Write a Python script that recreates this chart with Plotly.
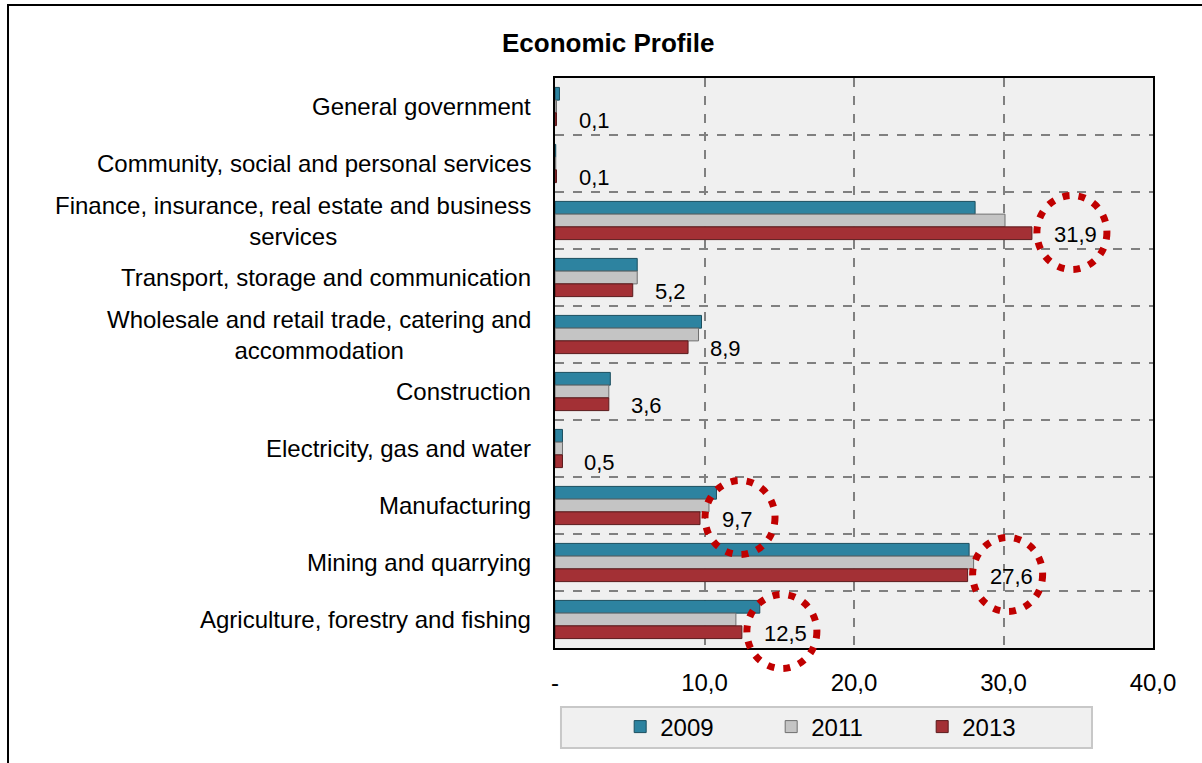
import plotly.graph_objects as go

categories = [
    "General government",
    "Community, social and personal services",
    "Finance, insurance, real estate and business<br>services",
    "Transport, storage and communication",
    "Wholesale and retail trade, catering and<br>accommodation",
    "Construction",
    "Electricity, gas and water",
    "Manufacturing",
    "Mining and quarrying",
    "Agriculture, forestry and fishing",
]
years = ["2009", "2011", "2013"]
v2009 = [0.3, 0.05, 28.1, 5.5, 9.8, 3.7, 0.5, 10.8, 27.7, 13.7]
v2011 = [0.1, 0.05, 30.1, 5.5, 9.6, 3.6, 0.5, 10.3, 28.0, 12.1]
v2013 = [0.1, 0.1, 31.9, 5.2, 8.9, 3.6, 0.5, 9.7, 27.6, 12.5]
labels2013 = ["0,1", "0,1", "31,9", "5,2", "8,9", "3,6", "0,5", "9,7", "27,6", "12,5"]
highlight = [
    "Finance, insurance, real estate and business<br>services",
    "Manufacturing",
    "Mining and quarrying",
    "Agriculture, forestry and fishing",
]
xtickvals = [0, 10, 20, 30, 40]
xticktext = ["-", "10,0", "20,0", "30,0", "40,0"]

FONT = "Liberation Sans, Arial, sans-serif"
colors = {"2009": "#2D83A0", "2011": "#C4C4C4", "2013": "#A33035"}
edge = {"2009": "#1B4F5F", "2011": "#6E6E6E", "2013": "#5A1A1C"}

fig = go.Figure()
for yr, vals in zip(years, [v2009, v2011, v2013]):
    fig.add_trace(go.Bar(
        y=categories, x=vals, name=yr, orientation="h",
        marker=dict(color=colors[yr], line=dict(color=edge[yr], width=1)),
    ))

annotations = []
for c in categories:
    annotations.append(dict(
        x=0, xref="paper", y=c, yref="y", text=c, showarrow=False,
        xanchor="right", yanchor="middle", align="center", xshift=-22,
        font=dict(family=FONT, size=24, color="black"),
    ))
for c, v, t in zip(categories, v2013, labels2013):
    annotations.append(dict(
        x=v, xref="x", y=c, yref="y", text=t, showarrow=False,
        xanchor="left", yanchor="middle", xshift=20, yshift=-14,
        font=dict(family=FONT, size=22, color="black"),
    ))

shapes = []
shapes.append(dict(type="rect", xref="paper", yref="paper",
                   x0=-0.9147, x1=1.2, y0=-0.3, y1=1.128,
                   line=dict(color="black", width=2), layer="below"))
shapes.append(dict(type="rect", xref="paper", yref="paper",
                   x0=0.01, x1=0.898, y0=-0.1754, y1=-0.1035,
                   fillcolor="#F0F0F0", line=dict(color="#C8C8C8", width=2), layer="below"))
v_by_cat = dict(zip(categories, v2013))
n = len(categories)
for c in highlight:
    # vertical anchor: centre of the category band in y-domain units (not clipped vertically)
    ydom = 1 - (categories.index(c) + 0.5) / n
    shapes.append(dict(
        type="circle", xref="x", yref="y domain",
        xsizemode="pixel", ysizemode="pixel",
        xanchor=v_by_cat[c], yanchor=ydom,
        x0=40 - 35, x1=40 + 35, y0=-12 - 37, y1=-12 + 37,
        line=dict(color="#C00000", width=7, dash="7px,9px"),
    ))

fig.update_layout(
    width=1202, height=763,
    margin=dict(l=555, r=49, t=78, b=115, autoexpand=False),
    paper_bgcolor="white", plot_bgcolor="#F0F0F0",
    barmode="group", bargap=0.33, bargroupgap=0,
    font=dict(family=FONT, size=24, color="black"),
    title=dict(text="<b>Economic Profile</b>", x=0.506, xanchor="center",
               y=1 - 43 / 763, yanchor="middle",
               font=dict(family=FONT, size=26, color="black")),
    showlegend=True,
    legend=dict(orientation="h", x=0.109, xanchor="left", y=-0.1386, yanchor="middle",
                bgcolor="rgba(0,0,0,0)", entrywidth=106, entrywidthmode="pixels",
                font=dict(family=FONT, size=24, color="black"), itemclick=False),
    annotations=annotations,
    shapes=shapes,
)
fig.update_xaxes(
    range=[0, 40], tickvals=xtickvals, ticktext=xticktext,
    showgrid=True, gridcolor="#808080", griddash="dash", gridwidth=1.5,
    showline=True, linecolor="black", linewidth=2, mirror=True,
    ticks="", ticklabelstandoff=12, zeroline=False,
    tickfont=dict(family=FONT, size=24, color="black"),
)
fig.update_yaxes(
    type="category", categoryorder="array", categoryarray=categories,
    range=[9.5, -0.5], showticklabels=False, tickson="boundaries",
    showgrid=True, gridcolor="#808080", griddash="dash", gridwidth=1.5,
    showline=True, linecolor="black", linewidth=2, mirror=True, ticks="",
)
fig.write_html("out.html", config={"displayModeBar": False},
               post_script="document.body.style.margin='0';")
